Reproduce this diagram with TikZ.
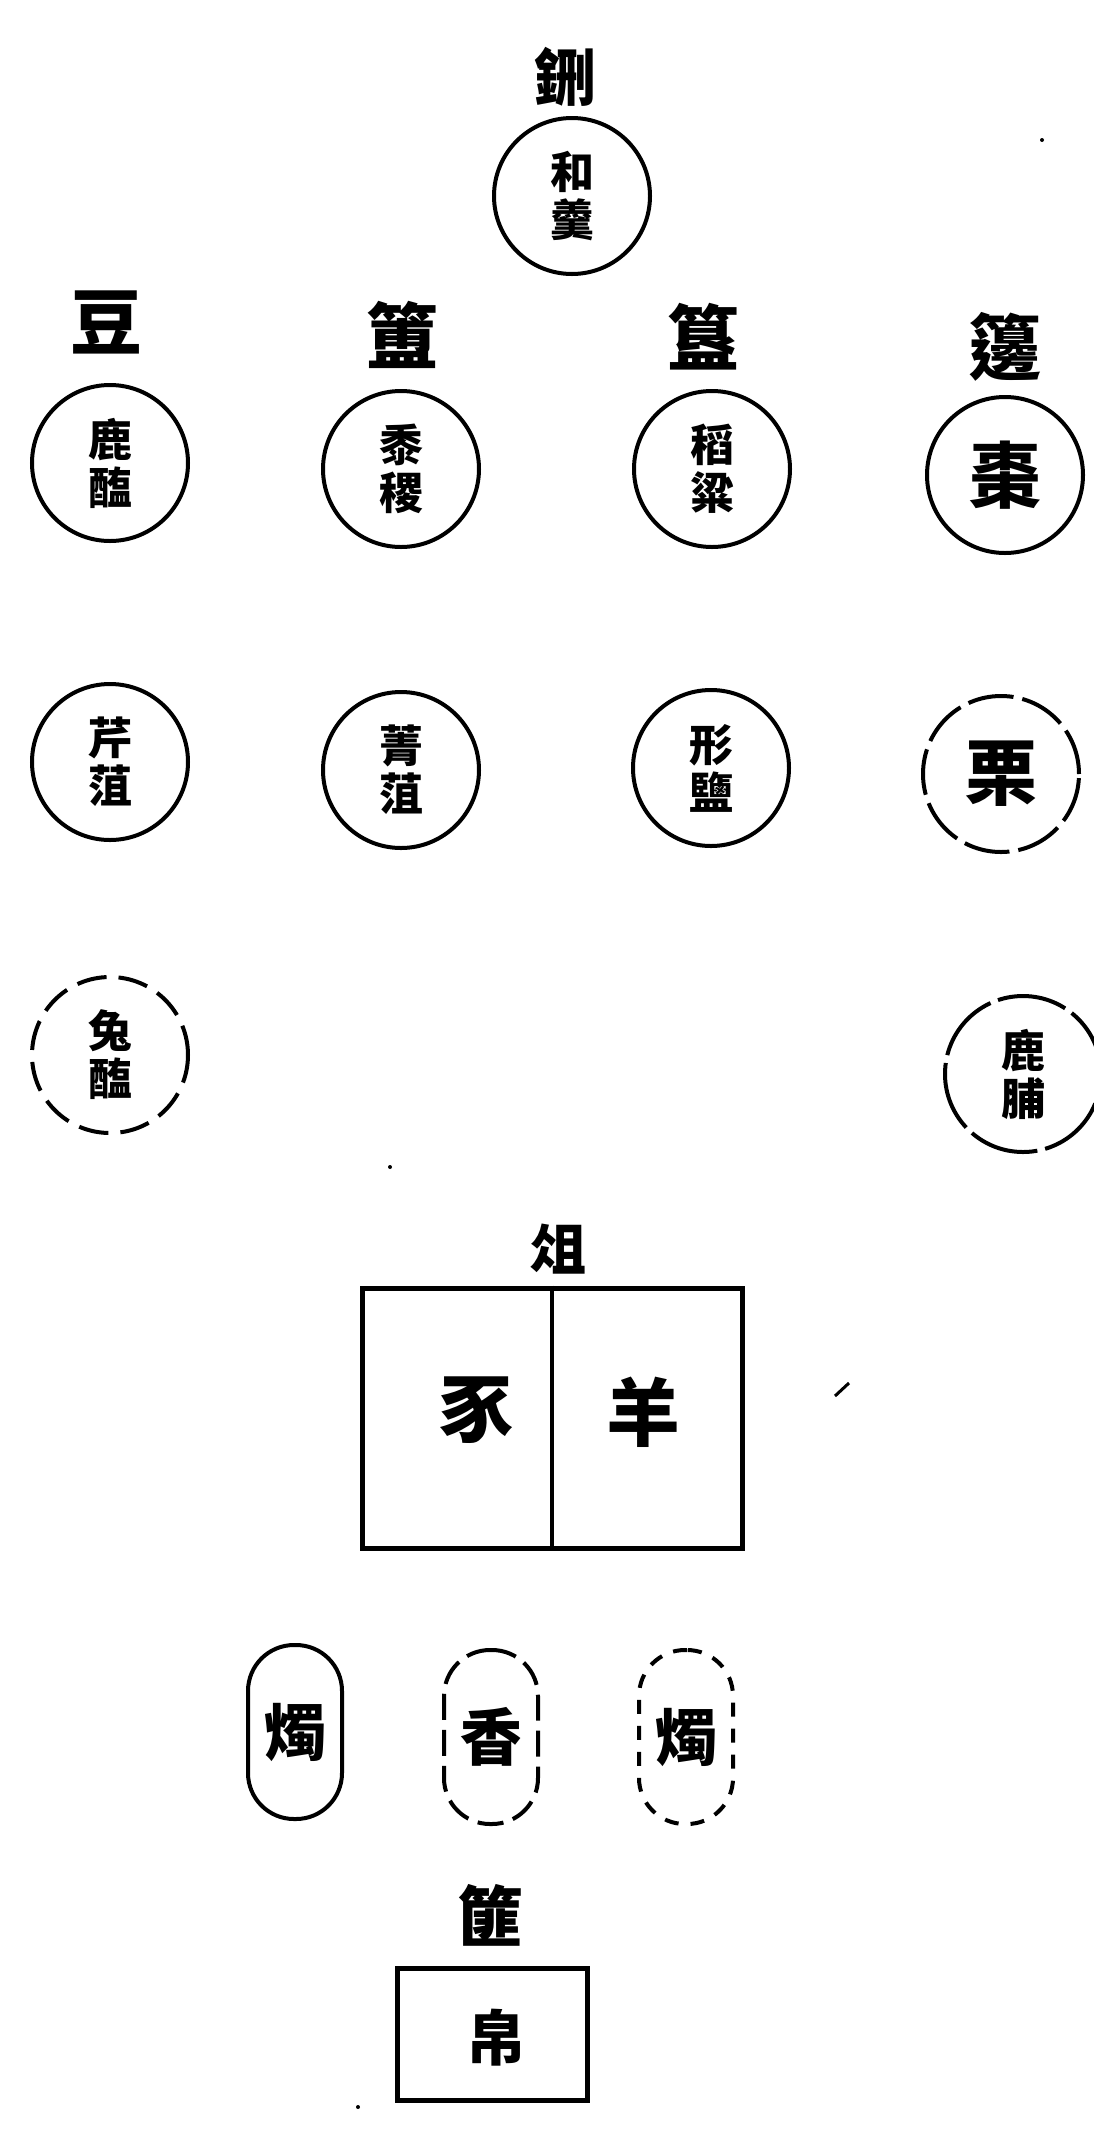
\documentclass[tikz,border=0pt]{standalone}
\usepackage{fontspec}
\newfontfamily\cjk{Noto Sans CJK TC}
\begin{document}
\begin{tikzpicture}[x=1pt,y=-1pt,
  dish/.style={circle, draw, line width=4pt, minimum size=156pt, inner sep=0pt,
    align=center, font=\cjk\bfseries\fontsize{44}{48}\selectfont},
  dishdash/.style={dish, dash pattern=on 46pt off 9pt},
  vessel/.style={inner sep=0pt, font=\cjk\bfseries\fontsize{72}{72}\selectfont},
  candle/.style={draw, line width=4pt, rounded corners=46pt, minimum width=94pt,
    minimum height=174pt, inner sep=0pt, font=\cjk\bfseries\fontsize{62}{62}\selectfont},
  candledash/.style={candle, dash pattern=on 26pt off 10pt},
  tray/.style={draw, line width=5pt, inner sep=0pt},
  big/.style={inner sep=0pt, font=\cjk\bfseries\fontsize{74}{74}\selectfont}]
\useasboundingbox (0,0) rectangle (1094,2134);
\fill[white] (0,0) rectangle (1094,2134);

% top: xing
\node[vessel, font=\cjk\bfseries\fontsize{62}{62}\selectfont] (lxing) at (565,77) {鉶};
\node[dish] (xing) at (572,196) {和\\羹};

% row 1 labels
\node[vessel] (ldou) at (106,322) {豆};
\node[vessel] (lfu) at (402,335) {簠};
\node[vessel] (lgui) at (703,337) {簋};
\node[vessel] (lbian) at (1005,347) {籩};

% row 1 dishes
\node[dish] (d11) at (110,463) {鹿\\醢};
\node[dish] (d12) at (401,469) {黍\\稷};
\node[dish] (d13) at (712,469) {稻\\粱};
\node[dish, font=\cjk\bfseries\fontsize{72}{72}\selectfont] (d14) at (1005,475) {棗};

% row 2 dishes
\node[dish] (d21) at (110,762) {芹\\菹};
\node[dish] (d22) at (401,770) {菁\\菹};
\node[dish] (d23) at (711,768) {形\\鹽};
\node[dishdash, font=\cjk\bfseries\fontsize{72}{72}\selectfont] (d24) at (1001,774) {栗};

% row 3 dishes
\node[dishdash, dash pattern=on 30pt off 12pt] (d31) at (110,1055) {兔\\醢};
\node[dishdash, dash pattern=on 70pt off 8pt] (d34) at (1023,1074) {鹿\\脯};

% zu
\node[vessel, font=\cjk\bfseries\fontsize{56}{56}\selectfont] (lzu) at (558,1249) {俎};
\node[tray, minimum width=380pt, minimum height=260pt] (zu) at (552,1418) {};
\draw[line width=4pt] (zu.north) -- (zu.south);
\node[big] (shi) at (476,1410) {豕};
\node[big] (yang) at (643,1412) {羊};

% candles and incense
\node[candle] (zhu1) at (295,1732) {燭};
\node[candledash] (xiang) at (491,1737) {香};
\node[candledash, dash pattern=on 14pt off 12pt] (zhu2) at (686,1737) {燭};

% fei
\node[vessel, font=\cjk\bfseries\fontsize{66}{66}\selectfont] (lfei) at (490,1915) {篚};
\node[tray, minimum width=190pt, minimum height=132pt] (fei) at (492,2034) {};
\node[inner sep=0pt, font=\cjk\bfseries\fontsize{60}{60}\selectfont] (bo) at (496,2038) {帛};

% stray marks of the print
\coordinate (m1) at (835,1396);
\coordinate (m2) at (849,1383);
\draw[line width=3pt] (m1) -- (m2);
\fill (1042,140) circle (2pt);
\fill (390,1167) circle (2pt);
\fill (358,2107) circle (2pt);
\end{tikzpicture}
\end{document}
